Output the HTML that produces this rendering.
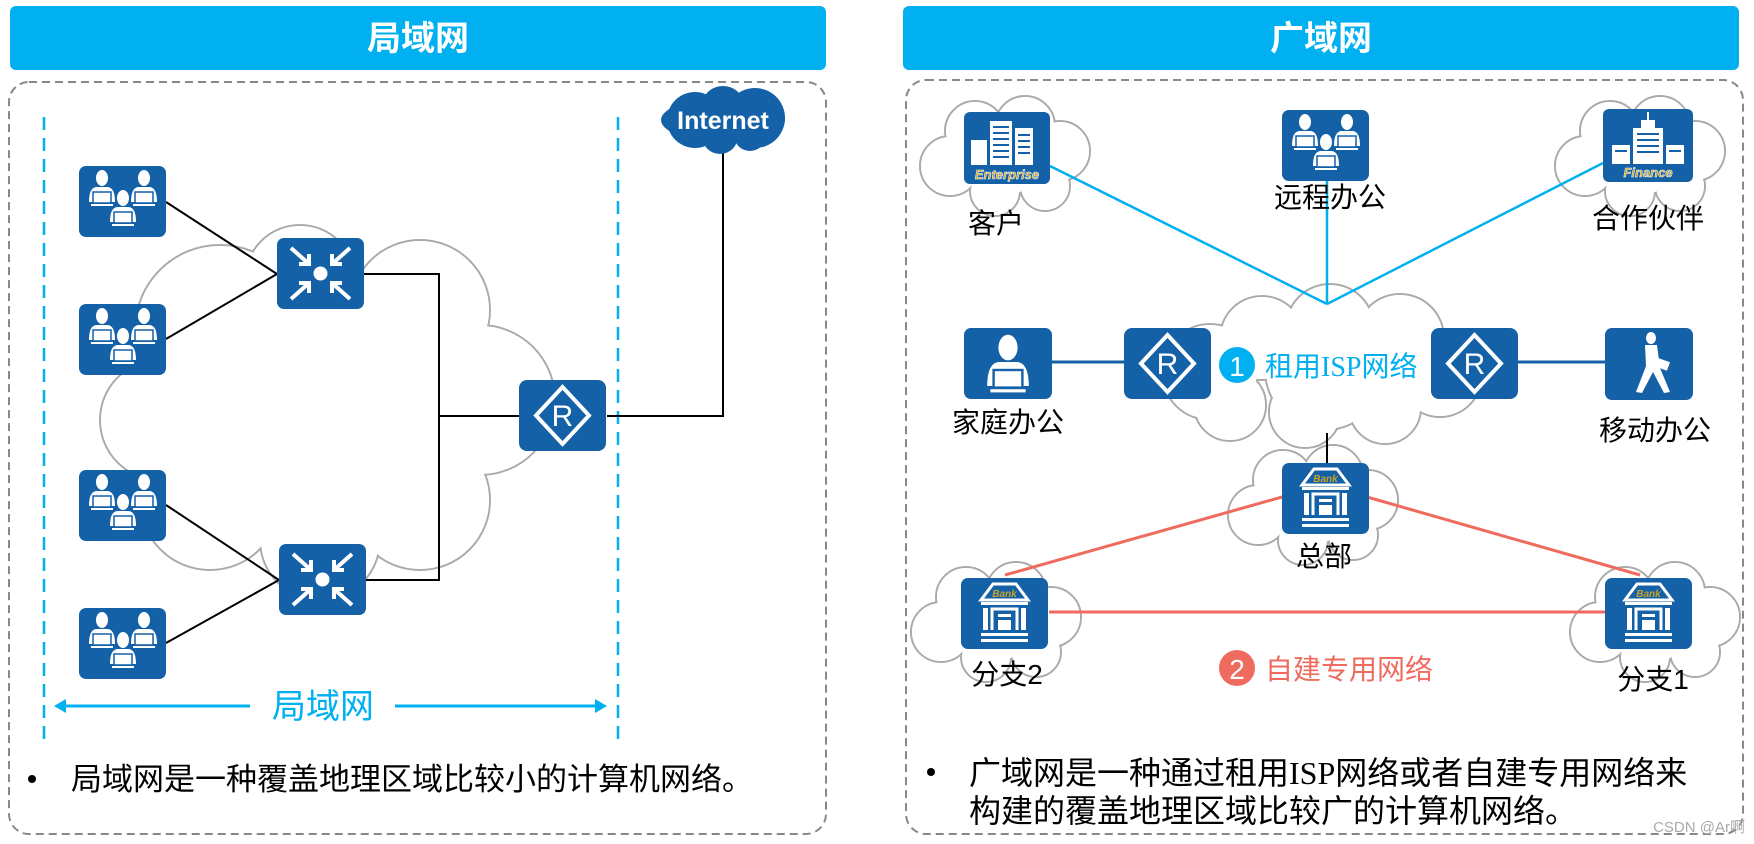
<!DOCTYPE html>
<html><head><meta charset="utf-8"><style>
html,body{margin:0;padding:0;background:#fff;}
svg{display:block;font-family:"Liberation Sans","Noto Sans CJK SC",sans-serif;}
</style></head><body>
<svg width="1754" height="844" viewBox="0 0 1754 844" xmlns="http://www.w3.org/2000/svg">
<defs>
<g id="person">
  <ellipse cx="0" cy="-14" rx="6" ry="8" fill="#fff"/>
  <path d="M-13 10 Q-13 -4 -6 -5 L6 -5 Q13 -4 13 10 Z" fill="#fff"/>
  <rect x="-9" y="0" width="18" height="11" fill="#fff" stroke="#1461a8" stroke-width="1.5"/>
  <rect x="-11" y="12" width="22" height="2" fill="#fff"/>
</g>
<g id="users">
  <rect x="0" y="0" width="87" height="71" rx="7" fill="#1461a8"/>
  <use href="#person" x="23" y="26"/>
  <use href="#person" x="65" y="26"/>
  <use href="#person" x="44" y="46"/>
</g>
<g id="switch">
  <rect x="0" y="0" width="87" height="71" rx="7" fill="#1461a8"/>
  <circle cx="43.5" cy="35.5" r="7" fill="#fff"/>
  <g stroke="#fff" stroke-width="4" fill="none">
    <path d="M14 10 L32 26 M22 26 L32 26 L32 16"/>
    <path d="M73 10 L55 26 M65 26 L55 26 L55 16"/>
    <path d="M14 61 L32 45 M22 45 L32 45 L32 55"/>
    <path d="M73 61 L55 45 M65 45 L55 45 L55 55"/>
  </g>
</g>
<g id="router">
  <rect x="0" y="0" width="87" height="71" rx="8" fill="#1461a8"/>
  <path d="M43.5 7 L70 35.5 L43.5 64 L17 35.5 Z" fill="none" stroke="#fff" stroke-width="4"/>
  <text x="43.5" y="46" font-size="30" fill="#fff" text-anchor="middle">R</text>
</g>
<g id="bank">
  <rect x="0" y="0" width="87" height="71" rx="7" fill="#1461a8"/>
  <path d="M20 22 L32 6 L55 6 L67 22 Z" fill="none" stroke="#fff" stroke-width="3"/>
  <text x="43.5" y="19" font-size="10" font-style="italic" font-weight="bold" fill="#c9a227" text-anchor="middle">Bank</text>
  <rect x="20" y="24" width="47" height="3" fill="#fff"/>
  <rect x="22" y="30" width="5" height="22" fill="#fff"/>
  <rect x="60" y="30" width="5" height="22" fill="#fff"/>
  <path d="M31 52 L31 31 L56 31 L56 52" fill="none" stroke="#fff" stroke-width="3"/>
  <rect x="37" y="36" width="13" height="3" fill="#fff"/>
  <rect x="37" y="42" width="13" height="10" fill="#fff"/>
  <rect x="20" y="55" width="47" height="3" fill="#fff"/>
  <rect x="20" y="61" width="47" height="3" fill="#fff"/>
</g>
<g id="cloudS">
  <g fill="none" stroke="#aaa" stroke-width="2">
    <circle cx="-55" cy="10" r="30"/><circle cx="-30" cy="-25" r="30"/><circle cx="20" cy="-30" r="30"/>
    <circle cx="55" cy="-5" r="30"/><circle cx="40" cy="30" r="25"/><circle cx="-10" cy="35" r="25"/><circle cx="0" cy="0" r="40"/>
  </g>
  <g fill="#fff">
    <circle cx="-55" cy="10" r="29"/><circle cx="-30" cy="-25" r="29"/><circle cx="20" cy="-30" r="29"/>
    <circle cx="55" cy="-5" r="29"/><circle cx="40" cy="30" r="24"/><circle cx="-10" cy="35" r="24"/><circle cx="0" cy="0" r="39"/>
  </g>
</g>
</defs>

<rect x="10" y="6" width="816" height="64" rx="6" fill="#00b0f0"/>
<text x="418" y="50" font-size="34" font-weight="bold" fill="#fff" text-anchor="middle">局域网</text>
<rect x="903" y="6" width="836" height="64" rx="6" fill="#00b0f0"/>
<text x="1321" y="50" font-size="34" font-weight="bold" fill="#fff" text-anchor="middle">广域网</text>

<rect x="9" y="82" width="817" height="752" rx="20" fill="none" stroke="#888" stroke-width="2" stroke-dasharray="8,5"/>
<rect x="906" y="80" width="837" height="754" rx="20" fill="none" stroke="#888" stroke-width="2" stroke-dasharray="8,5"/>

<g fill="none" stroke="#aaa" stroke-width="2">
  <circle cx="220" cy="330" r="85"/><circle cx="300" cy="280" r="55"/><circle cx="420" cy="310" r="70"/>
  <circle cx="480" cy="400" r="75"/><circle cx="420" cy="500" r="70"/><circle cx="320" cy="540" r="60"/>
  <circle cx="210" cy="500" r="70"/><circle cx="160" cy="420" r="60"/><circle cx="330" cy="410" r="140"/>
</g>
<g fill="#fff">
  <circle cx="220" cy="330" r="84"/><circle cx="300" cy="280" r="54"/><circle cx="420" cy="310" r="69"/>
  <circle cx="480" cy="400" r="74"/><circle cx="420" cy="500" r="69"/><circle cx="320" cy="540" r="59"/>
  <circle cx="210" cy="500" r="69"/><circle cx="160" cy="420" r="59"/><circle cx="330" cy="410" r="139"/>
</g>

<line x1="44" y1="117" x2="44" y2="742" stroke="#00b0f0" stroke-width="2.5" stroke-dasharray="13,8"/>
<line x1="618" y1="117" x2="618" y2="742" stroke="#00b0f0" stroke-width="2.5" stroke-dasharray="13,8"/>

<g stroke="#000" stroke-width="2" fill="none">
  <line x1="166" y1="202" x2="277" y2="274"/>
  <line x1="166" y1="339" x2="277" y2="274"/>
  <line x1="166" y1="505" x2="279" y2="580"/>
  <line x1="166" y1="643" x2="279" y2="580"/>
  <polyline points="363,274 439,274 439,580 365,580"/>
  <line x1="439" y1="416" x2="519" y2="416"/>
  <polyline points="607,416 723,416 723,152"/>
</g>

<use href="#users" x="79" y="166"/>
<use href="#users" x="79" y="304"/>
<use href="#users" x="79" y="470"/>
<use href="#users" x="79" y="608"/>
<use href="#switch" x="277" y="238"/>
<use href="#switch" x="279" y="544"/>
<use href="#router" x="519" y="380"/>

<g fill="#1461a8">
  <circle cx="695" cy="120" r="28"/><circle cx="723" cy="108" r="22"/><circle cx="755" cy="118" r="30"/>
  <circle cx="720" cy="136" r="18"/><circle cx="750" cy="135" r="16"/><ellipse cx="723" cy="120" rx="62" ry="22"/>
</g>
<text x="723" y="129" font-size="25" font-weight="bold" fill="#fff" text-anchor="middle">Internet</text>

<line x1="60" y1="706" x2="250" y2="706" stroke="#00b0f0" stroke-width="3"/>
<line x1="395" y1="706" x2="600" y2="706" stroke="#00b0f0" stroke-width="3"/>
<path d="M54 706 L66 699 L66 713 Z" fill="#00b0f0"/>
<path d="M607 706 L595 699 L595 713 Z" fill="#00b0f0"/>
<text x="323" y="718" font-size="34" fill="#00b0f0" text-anchor="middle">局域网</text>

<circle cx="32" cy="779" r="4" fill="#000"/>
<text x="71" y="790" font-size="31" fill="#000">局域网是一种覆盖地理区域比较小的计算机网络。</text>

<use href="#cloudS" x="1005" y="156"/>
<use href="#cloudS" x="1640" y="156"/>
<use href="#cloudS" x="1313" y="505"/>
<use href="#cloudS" x="996" y="622"/>
<use href="#cloudS" x="1655" y="622"/>
<g fill="none" stroke="#aaa" stroke-width="2">
  <circle cx="1210" cy="372" r="48"/><circle cx="1262" cy="338" r="42"/><circle cx="1330" cy="328" r="44"/>
  <circle cx="1400" cy="338" r="44"/><circle cx="1440" cy="375" r="42"/><circle cx="1385" cy="408" r="36"/>
  <circle cx="1305" cy="412" r="36"/><circle cx="1230" cy="405" r="36"/><circle cx="1325" cy="370" r="60"/>
</g>
<g fill="#fff">
  <circle cx="1210" cy="372" r="47"/><circle cx="1262" cy="338" r="41"/><circle cx="1330" cy="328" r="43"/>
  <circle cx="1400" cy="338" r="43"/><circle cx="1440" cy="375" r="41"/><circle cx="1385" cy="408" r="35"/>
  <circle cx="1305" cy="412" r="35"/><circle cx="1230" cy="405" r="35"/><circle cx="1325" cy="370" r="59"/>
</g>

<g stroke="#00b0f0" stroke-width="2.5">
  <line x1="1050" y1="166" x2="1327" y2="304"/>
  <line x1="1327" y1="181" x2="1327" y2="304"/>
  <line x1="1603" y1="163" x2="1327" y2="304"/>
</g>
<g stroke="#1461a8" stroke-width="3">
  <line x1="1052" y1="362" x2="1124" y2="362"/>
  <line x1="1518" y1="362" x2="1605" y2="362"/>
</g>
<line x1="1327" y1="433" x2="1327" y2="463" stroke="#000" stroke-width="2"/>
<g stroke="#ee6b5e" stroke-width="3">
  <line x1="1282" y1="497" x2="1005" y2="575"/>
  <line x1="1367" y1="497" x2="1640" y2="575"/>
  <line x1="1049" y1="612" x2="1605" y2="612"/>
</g>

<rect x="964" y="112" width="86" height="72" rx="6" fill="#1461a8"/>
<g fill="#fff">
  <rect x="990" y="121" width="22" height="44"/><rect x="1015" y="128" width="18" height="37"/><rect x="971" y="140" width="16" height="25"/>
</g>
<g fill="#1461a8">
  <rect x="993" y="126" width="16" height="2"/><rect x="993" y="132" width="16" height="2"/><rect x="993" y="138" width="16" height="2"/><rect x="993" y="144" width="16" height="2"/><rect x="993" y="150" width="16" height="2"/><rect x="993" y="156" width="16" height="2"/>
  <rect x="1018" y="134" width="12" height="2"/><rect x="1018" y="140" width="12" height="2"/><rect x="1018" y="146" width="12" height="2"/><rect x="1018" y="152" width="12" height="2"/>
</g>
<text x="1007" y="179" font-size="13" font-style="italic" font-weight="bold" fill="#c9a227" text-anchor="middle" stroke="#fff" stroke-width="0.5">Enterprise</text>

<use href="#users" x="1282" y="110"/>

<rect x="1603" y="109" width="90" height="73" rx="6" fill="#1461a8"/>
<g fill="#fff">
  <rect x="1633" y="128" width="30" height="36"/><rect x="1641" y="120" width="14" height="8"/><rect x="1647" y="112" width="2" height="8"/>
  <rect x="1612" y="145" width="18" height="19"/><rect x="1666" y="145" width="18" height="19"/>
</g>
<g fill="#1461a8">
  <rect x="1637" y="133" width="22" height="2"/><rect x="1637" y="139" width="22" height="2"/><rect x="1637" y="145" width="22" height="2"/><rect x="1637" y="151" width="22" height="2"/>
  <rect x="1615" y="150" width="12" height="2"/><rect x="1669" y="150" width="12" height="2"/>
</g>
<text x="1648" y="177" font-size="13" font-style="italic" font-weight="bold" fill="#c9a227" text-anchor="middle" stroke="#fff" stroke-width="0.5">Finance</text>

<rect x="964" y="328" width="88" height="71" rx="7" fill="#1461a8"/>
<g transform="translate(1008 370) scale(1.6)"><use href="#person"/></g>

<use href="#router" x="1124" y="328"/>
<use href="#router" x="1431" y="328"/>

<rect x="1605" y="328" width="88" height="72" rx="7" fill="#1461a8"/>
<g fill="#fff">
  <ellipse cx="1651" cy="338" rx="5" ry="6"/>
  <path d="M1645 345 L1657 345 L1660 368 L1670 392 L1664 393 L1653 372 L1642 393 L1636 392 L1646 366 Z"/>
  <rect x="1657" y="360" width="12" height="9" transform="rotate(20 1663 364)"/>
</g>

<use href="#bank" x="1282" y="463"/>
<use href="#bank" x="961" y="578"/>
<use href="#bank" x="1605" y="578"/>

<circle cx="1237" cy="365" r="18" fill="#00b0f0"/>
<text x="1237" y="376" font-size="28" fill="#fff" text-anchor="middle">1</text>
<text x="1265" y="376" font-size="28" fill="#00b0f0" font-family="Liberation Serif, Noto Sans CJK SC, serif">租用ISP网络</text>

<circle cx="1237" cy="668" r="18" fill="#ee6b5e"/>
<text x="1237" y="679" font-size="28" fill="#fff" text-anchor="middle">2</text>
<text x="1265" y="679" font-size="28" fill="#ee6b5e">自建专用网络</text>

<g font-size="28" fill="#000" text-anchor="middle">
  <text x="996" y="233">客户</text>
  <text x="1330" y="207">远程办公</text>
  <text x="1648" y="228">合作伙伴</text>
  <text x="1008" y="432">家庭办公</text>
  <text x="1655" y="440">移动办公</text>
  <text x="1324" y="566">总部</text>
  <text x="1007" y="684">分支2</text>
  <text x="1653" y="689">分支1</text>
</g>

<circle cx="931" cy="772" r="4" fill="#000"/>
<text x="969" y="784" font-size="32" fill="#000" font-family="Liberation Serif, Noto Sans CJK SC, serif">广域网是一种通过租用ISP网络或者自建专用网络来</text>
<text x="969" y="822" font-size="32" fill="#000">构建的覆盖地理区域比较广的计算机网络。</text>

<text x="1745" y="832" font-size="15" fill="#aaa" text-anchor="end">CSDN @Ar啊</text>
</svg>
</body></html>
